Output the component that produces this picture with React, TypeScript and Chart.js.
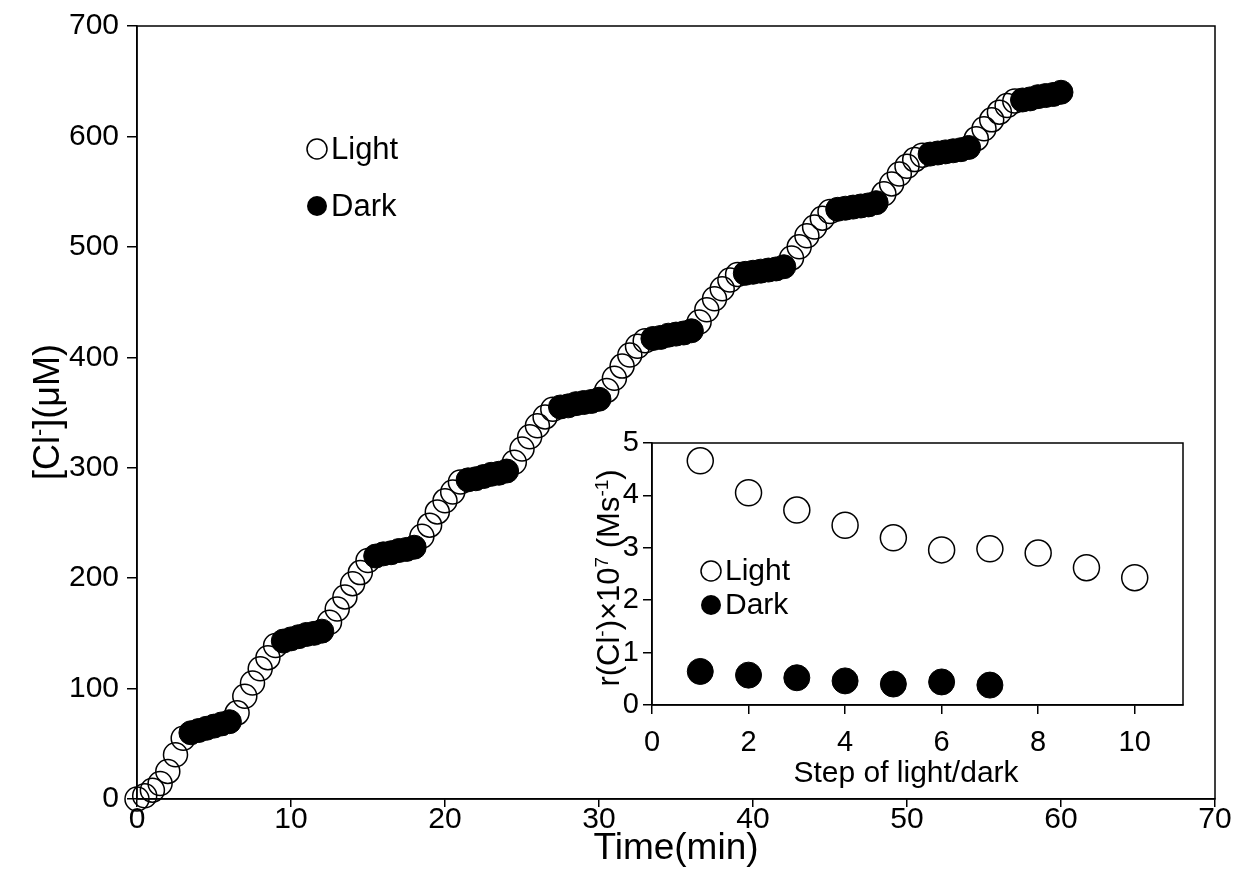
import React, { useEffect, useRef } from "react";
import { Chart, registerables } from "chart.js";

Chart.register(...registerables);

const FONT = "'Liberation Sans', Arial, sans-serif";

// ---------- Main chart data: [Cl-] (µM) vs time (min) ----------
const lightTime = [
  0, 0.5, 1, 1.5, 2, 2.5, 3,
  6.5, 7, 7.5, 8, 8.5, 9,
  12.5, 13, 13.5, 14, 14.5, 15,
  18.5, 19, 19.5, 20, 20.5, 21,
  24.5, 25, 25.5, 26, 26.5, 27,
  30.5, 31, 31.5, 32, 32.5, 33,
  36.5, 37, 37.5, 38, 38.5, 39,
  42.5, 43, 43.5, 44, 44.5, 45,
  48.5, 49, 49.5, 50, 50.5, 51,
  54.5, 55, 55.5, 56, 56.5, 57,
];
const lightConc = [
  0, 3, 8, 14, 25, 40, 55,
  78, 93, 105, 118, 128, 139,
  160, 172, 183, 195, 205, 216,
  238, 248, 260, 270, 278, 287,
  305, 317, 328, 338, 346, 353,
  370, 381, 392, 402, 410, 415,
  432, 443, 453, 462, 470, 475,
  490, 500, 510, 518, 526, 532,
  548, 557, 566, 573, 579, 583,
  598, 607, 615, 622, 628, 632,
];
const darkTime = [
  3.5, 4, 4.5, 5, 5.5, 6,
  9.5, 10, 10.5, 11, 11.5, 12,
  15.5, 16, 16.5, 17, 17.5, 18,
  21.5, 22, 22.5, 23, 23.5, 24,
  27.5, 28, 28.5, 29, 29.5, 30,
  33.5, 34, 34.5, 35, 35.5, 36,
  39.5, 40, 40.5, 41, 41.5, 42,
  45.5, 46, 46.5, 47, 47.5, 48,
  51.5, 52, 52.5, 53, 53.5, 54,
  57.5, 58, 58.5, 59, 59.5, 60,
];
const darkConc = [
  60, 62, 64, 66, 68, 70,
  143, 145, 147, 149, 150, 152,
  220, 222, 223, 225, 226, 228,
  289, 290, 292, 294, 295, 297,
  355, 356, 358, 359, 360, 362,
  417, 418, 420, 421, 422, 424,
  476, 477, 478, 479, 480, 482,
  534, 535, 536, 537, 538, 540,
  584, 585, 586, 587, 588, 590,
  633, 634, 636, 637, 638, 640,
];
const mainXTicks = [0, 10, 20, 30, 40, 50, 60, 70];
const mainYTicks = [0, 100, 200, 300, 400, 500, 600, 700];

// ---------- Inset data: rate vs step ----------
const lightSteps = [1, 2, 3, 4, 5, 6, 7, 8, 9, 10];
const lightRate = [4.66, 4.05, 3.72, 3.43, 3.19, 2.96, 2.98, 2.9, 2.62, 2.43];
const darkSteps = [1, 2, 3, 4, 5, 6, 7];
const darkRate = [0.64, 0.57, 0.52, 0.46, 0.4, 0.44, 0.38];
const insetXTicks = [0, 2, 4, 6, 8, 10];
const insetYTicks = [0, 1, 2, 3, 4, 5];

const legendLabels = ["Light", "Dark"];

// ---------- layout ----------
const W = 1241;
const H = 890;
const MAIN = { left: 137, right: 1215, top: 25, bottom: 799 };
const INSET_BOX = { left: 560, top: 405, width: 660, height: 390 };
const INSET = { left: 652, right: 1183, top: 443, bottom: 705 };

type Part = { t: string; sup?: boolean };

function drawRich(ctx: CanvasRenderingContext2D, parts: Part[], cx: number, cy: number, size: number, rot: number) {
  ctx.save();
  ctx.translate(cx, cy);
  ctx.rotate(rot);
  const big = `${size}px ${FONT}`;
  const small = `${Math.round(size * 0.62)}px ${FONT}`;
  let w = 0;
  for (const p of parts) {
    ctx.font = p.sup ? small : big;
    w += ctx.measureText(p.t).width;
  }
  let x = -w / 2;
  ctx.textBaseline = "alphabetic";
  ctx.textAlign = "left";
  ctx.fillStyle = "#000";
  const base = size * 0.36;
  for (const p of parts) {
    ctx.font = p.sup ? small : big;
    ctx.fillText(p.t, x, base - (p.sup ? size * 0.36 : 0));
    x += ctx.measureText(p.t).width;
  }
  ctx.restore();
}

function drawLegend(ctx: CanvasRenderingContext2D, x: number, y1: number, y2: number, r: number, size: number) {
  ctx.save();
  ctx.lineWidth = 1.5;
  ctx.strokeStyle = "#000";
  ctx.beginPath();
  ctx.arc(x, y1, r, 0, Math.PI * 2);
  ctx.stroke();
  ctx.fillStyle = "#000";
  ctx.beginPath();
  ctx.arc(x, y2, r, 0, Math.PI * 2);
  ctx.fill();
  ctx.font = `${size}px ${FONT}`;
  ctx.textBaseline = "middle";
  ctx.textAlign = "left";
  ctx.fillText(legendLabels[0], x + r + 4, y1 + 1);
  ctx.fillText(legendLabels[1], x + r + 4, y2 + 1);
  ctx.restore();
}

function frame(ctx: CanvasRenderingContext2D, a: { left: number; right: number; top: number; bottom: number }) {
  ctx.save();
  ctx.strokeStyle = "#000";
  ctx.lineWidth = 1.5;
  ctx.strokeRect(a.left, a.top, a.right - a.left, a.bottom - a.top);
  ctx.restore();
}

function axisCommon(ticks: number[], min: number, max: number, size: number, tickLen: number, pad: number) {
  return {
    type: "linear" as const,
    min,
    max,
    afterBuildTicks: (s: any) => {
      s.ticks = ticks.map((v) => ({ value: v }));
    },
    grid: {
      display: true,
      drawOnChartArea: false,
      drawTicks: true,
      tickLength: tickLen,
      color: "#000",
      lineWidth: 1.5,
    },
    border: { display: true, color: "#000", width: 1.5 },
    ticks: {
      color: "#000",
      font: { family: FONT, size },
      padding: pad,
      maxRotation: 0,
      autoSkip: false,
    },
  };
}

function MainChart() {
  const ref = useRef<HTMLCanvasElement>(null);
  useEffect(() => {
    const ctx = ref.current!.getContext("2d")!;
    const xAxis: any = axisCommon(mainXTicks, 0, 70, 30, 8, -5);
    xAxis.afterFit = (s: any) => {
      s.height = H - MAIN.bottom;
    };
    const yAxis: any = axisCommon(mainYTicks, 0, 700, 30, 10, 8);
    yAxis.afterFit = (s: any) => {
      s.width = MAIN.left;
    };
    const chart = new Chart(ctx, {
      type: "scatter",
      data: {
        datasets: [
          {
            label: "Light",
            data: lightTime.map((t, i) => ({ x: t, y: lightConc[i] })),
            pointRadius: 12,
            pointBorderWidth: 1.5,
            pointBorderColor: "#000",
            pointBackgroundColor: "rgba(0,0,0,0)",
            showLine: false,
            clip: false as any,
            order: 2,
          },
          {
            label: "Dark",
            data: darkTime.map((t, i) => ({ x: t, y: darkConc[i] })),
            pointRadius: 12,
            pointBorderWidth: 1,
            pointBorderColor: "#000",
            pointBackgroundColor: "#000",
            showLine: false,
            clip: false as any,
            order: 1,
          },
        ],
      },
      options: {
        responsive: false,
        animation: false,
        events: [],
        layout: { padding: { top: MAIN.top, right: W - MAIN.right, left: 0, bottom: 0 } },
        plugins: { legend: { display: false }, tooltip: { enabled: false } },
        scales: { x: xAxis, y: yAxis },
      },
      plugins: [
        {
          id: "deco",
          beforeDatasetsDraw(c: any) {
            frame(c.ctx, c.chartArea);
          },
          afterDraw(c: any) {
            const g = c.ctx as CanvasRenderingContext2D;
            drawRich(g, [{ t: "Time(min)" }], 676, 846, 37, 0);
            drawRich(g, [{ t: "[Cl" }, { t: "-", sup: true }, { t: "](μM)" }], 46, 412, 36, -Math.PI / 2);
            drawLegend(g, 317, 149, 206, 10, 31);
          },
        },
      ],
    });
    return () => chart.destroy();
  }, []);
  return <canvas ref={ref} width={W} height={H} style={{ position: "absolute", left: 0, top: 0 }} />;
}

function InsetChart() {
  const ref = useRef<HTMLCanvasElement>(null);
  useEffect(() => {
    const ctx = ref.current!.getContext("2d")!;
    const ox = INSET_BOX.left;
    const oy = INSET_BOX.top;
    const xAxis: any = axisCommon(insetXTicks, 0, 11, 29, 9, 12);
    xAxis.afterFit = (s: any) => {
      s.height = INSET_BOX.height - (INSET.bottom - oy);
    };
    const yAxis: any = axisCommon(insetYTicks, 0, 5, 29, 9, 4);
    yAxis.afterFit = (s: any) => {
      s.width = INSET.left - ox;
    };
    const chart = new Chart(ctx, {
      type: "scatter",
      data: {
        datasets: [
          {
            label: "Light",
            data: lightSteps.map((s, i) => ({ x: s, y: lightRate[i] })),
            pointRadius: 13,
            pointBorderWidth: 1.5,
            pointBorderColor: "#000",
            pointBackgroundColor: "#fff",
            showLine: false,
            clip: false as any,
          },
          {
            label: "Dark",
            data: darkSteps.map((s, i) => ({ x: s, y: darkRate[i] })),
            pointRadius: 13,
            pointBorderWidth: 1,
            pointBorderColor: "#000",
            pointBackgroundColor: "#000",
            showLine: false,
            clip: false as any,
          },
        ],
      },
      options: {
        responsive: false,
        animation: false,
        events: [],
        layout: {
          padding: {
            top: INSET.top - oy,
            right: ox + INSET_BOX.width - INSET.right,
            left: 0,
            bottom: 0,
          },
        },
        plugins: { legend: { display: false }, tooltip: { enabled: false } },
        scales: { x: xAxis, y: yAxis },
      },
      plugins: [
        {
          id: "insetDeco",
          beforeDraw(c: any) {
            const a = c.chartArea;
            c.ctx.save();
            c.ctx.fillStyle = "#fff";
            c.ctx.fillRect(a.left, a.top, a.right - a.left, a.bottom - a.top);
            c.ctx.restore();
          },
          beforeDatasetsDraw(c: any) {
            frame(c.ctx, c.chartArea);
          },
          afterDraw(c: any) {
            const g = c.ctx as CanvasRenderingContext2D;
            drawRich(g, [{ t: "Step of light/dark" }], 906 - ox, 771 - oy, 30, 0);
            drawRich(
              g,
              [{ t: "r(Cl" }, { t: "-", sup: true }, { t: ")×10" }, { t: "7", sup: true }, { t: " (Ms" }, { t: "-1", sup: true }, { t: ")" }],
              608 - ox,
              578 - oy,
              31,
              -Math.PI / 2
            );
            drawLegend(g, 711 - ox, 571 - oy, 605 - oy, 10, 30);
          },
        },
      ],
    });
    return () => chart.destroy();
  }, []);
  return (
    <canvas
      ref={ref}
      width={INSET_BOX.width}
      height={INSET_BOX.height}
      style={{ position: "absolute", left: INSET_BOX.left, top: INSET_BOX.top }}
    />
  );
}

export default function App() {
  return (
    <div style={{ position: "absolute", left: 0, top: 0, width: W, height: H, background: "#fff" }}>
      <MainChart />
      <InsetChart />
    </div>
  );
}
